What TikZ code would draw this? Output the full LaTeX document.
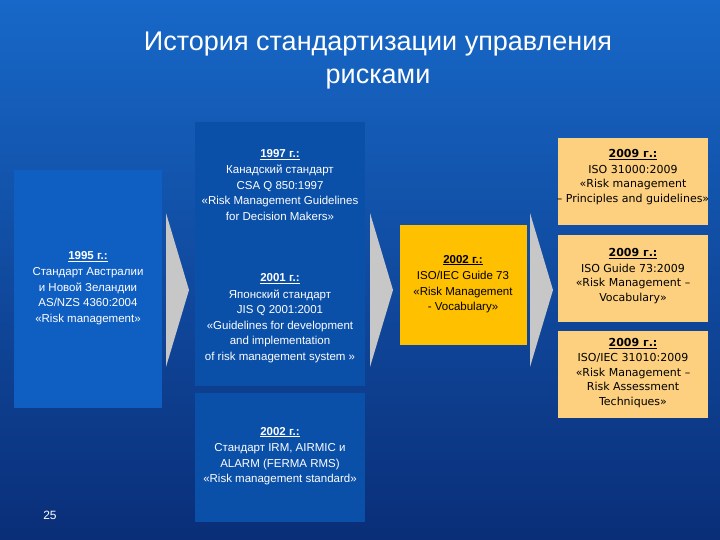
\documentclass[tikz,border=0pt]{standalone}
\usepackage{fontspec}
\setmainfont{Liberation Sans}
\newfontfamily\dv{DejaVu Sans}
\begin{document}
\begin{tikzpicture}[x=1pt,y=-1pt,
  tb/.style={text=white,align=center,font=\fontsize{11.5}{15.5}\selectfont},
  yb/.style={text=black,align=center,font=\dv\fontsize{11}{14.5}\selectfont},
  chev/.style={fill=black!22,draw=none}]
\definecolor{bgtop}{HTML}{1768C8}\definecolor{bgbot}{HTML}{0A2E78}
\definecolor{b1}{HTML}{0F5EC2}\definecolor{b2}{HTML}{0A4FA8}
\definecolor{y1}{HTML}{FFC000}\definecolor{y2}{HTML}{FCD07E}
\useasboundingbox (0,0) rectangle (720,540);
\shade[top color=bgtop,bottom color=bgbot] (0,0) rectangle (720,540);
\node[text=white,align=center,font=\fontsize{27}{33}\selectfont] (title) at (378,61) {История стандартизации управления\\рисками};
% boxes
\fill[b1] (14,170) rectangle (162,408);
\fill[b2] (195,122) rectangle (365,386);
\fill[b2] (195,393) rectangle (365,522);
\fill[y1] (400,225) rectangle (527,345);
\fill[y2] (558,138) rectangle (708,225);
\fill[y2] (558,235) rectangle (708,322);
\fill[y2] (558,331) rectangle (708,418);
% chevrons
\foreach \x in {166,370,530}{\fill[chev] (\x,213) -- (\x+23,290) -- (\x,367) -- cycle;}
% texts
\node[tb] (t1995) at (88,288) {\underline{\textbf{1995 г.:}}\\[1pt]Стандарт Австралии\\и Новой Зеландии\\AS/NZS 4360:2004\\«Risk management»};
\node[tb] (t1997) at (280,185) {\underline{\textbf{1997 г.:}}\\[1pt]Канадский стандарт\\CSA Q 850:1997\\«Risk Management Guidelines\\for Decision Makers»};
\node[tb] (t2001) at (280,318) {\underline{\textbf{2001 г.:}}\\[1pt]Японский стандарт\\JIS Q 2001:2001\\«Guidelines for development\\and implementation\\of risk management system »};
\node[tb] (tirm) at (280,456) {\underline{\textbf{2002 г.:}}\\[1pt]Стандарт IRM, AIRMIC и\\ALARM (FERMA RMS)\\«Risk management standard»};
\node[tb,text=black] (t2002) at (463,284) {\underline{\textbf{2002 г.:}}\\[1pt]ISO/IEC Guide 73\\«Risk Management\\- Vocabulary»};
\node[yb] (a) at (633,177) {\underline{\textbf{2009 г.:}}\\[1pt]ISO 31000:2009\\«Risk management\\– Principles and guidelines»};
\node[yb] (b) at (633,276) {\underline{\textbf{2009 г.:}}\\[1pt]ISO Guide 73:2009\\«Risk Management –\\Vocabulary»};
\node[yb] (c) at (633,373) {\underline{\textbf{2009 г.:}}\\[1pt]ISO/IEC 31010:2009\\«Risk Management –\\Risk Assessment\\Techniques»};
\node[text=white,font=\fontsize{12}{14}\selectfont] (pg) at (50,515) {25};
\end{tikzpicture}
\end{document}
